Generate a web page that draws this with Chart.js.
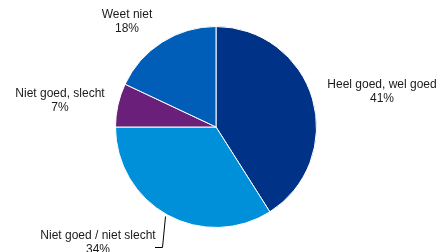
<!DOCTYPE html>
<html>
<head>
<meta charset="utf-8">
<script src="https://cdn.jsdelivr.net/npm/chart.js@4.4.0/dist/chart.umd.min.js"></script>
<style>
  html, body { margin: 0; padding: 0; background: #fff; }
  #wrap { width: 439px; height: 252px; position: relative; }
</style>
</head>
<body>
<div id="wrap"><canvas id="pie"></canvas></div>
<script>
const categories = ['Heel goed, wel goed', 'Niet goed / niet slecht', 'Niet goed, slecht', 'Weet niet'];
const shares = [41, 34, 7, 18];
const colors = ['#003388', '#0090da', '#6a1f7a', '#005eb8'];

// label centres relative to the pie centre (first line)
const labelSpots = [
    { dx: 166, dy: -42 },
    { dx: -118, dy: 109 },
    { dx: -156, dy: -33 },
    { dx: -89, dy: -112 }
];

const labelPlugin = {
    id: 'sliceLabels',
    afterDraw(chart) {
        const ctx = chart.ctx;
        const arc = chart.getDatasetMeta(0).data[0];
        const cx = arc.x, cy = arc.y;
        ctx.save();
        ctx.font = '12px "Liberation Sans", Arial, sans-serif';
        ctx.fillStyle = '#1a1a1a';
        ctx.textAlign = 'center';
        ctx.textBaseline = 'middle';
        categories.forEach((name, i) => {
            const p = labelSpots[i];
            ctx.fillText(name, cx + p.dx, cy + p.dy);
            ctx.fillText(shares[i] + '%', cx + p.dx, cy + p.dy + 14);
        });
        // leader line for the bottom label
        const r = arc.outerRadius;
        ctx.strokeStyle = '#000';
        ctx.lineWidth = 1;
        ctx.beginPath();
        ctx.moveTo(cx - 50.5, cy + r - 11);
        ctx.lineTo(cx - 53.5, cy + 120.5);
        ctx.lineTo(cx - 61, cy + 120.5);
        ctx.stroke();
        ctx.restore();
    }
};

new Chart(document.getElementById('pie'), {
    type: 'pie',
    data: {
        labels: categories,
        datasets: [{
            data: shares,
            backgroundColor: colors,
            borderColor: '#ffffff',
            borderWidth: 1
        }]
    },
    options: {
        responsive: true,
        maintainAspectRatio: false,
        animation: false,
        layout: { padding: { top: 26, bottom: 24, left: 115, right: 122 } },
        plugins: { legend: { display: false }, tooltip: { enabled: false } }
    },
    plugins: [labelPlugin]
});
</script>
</body>
</html>
